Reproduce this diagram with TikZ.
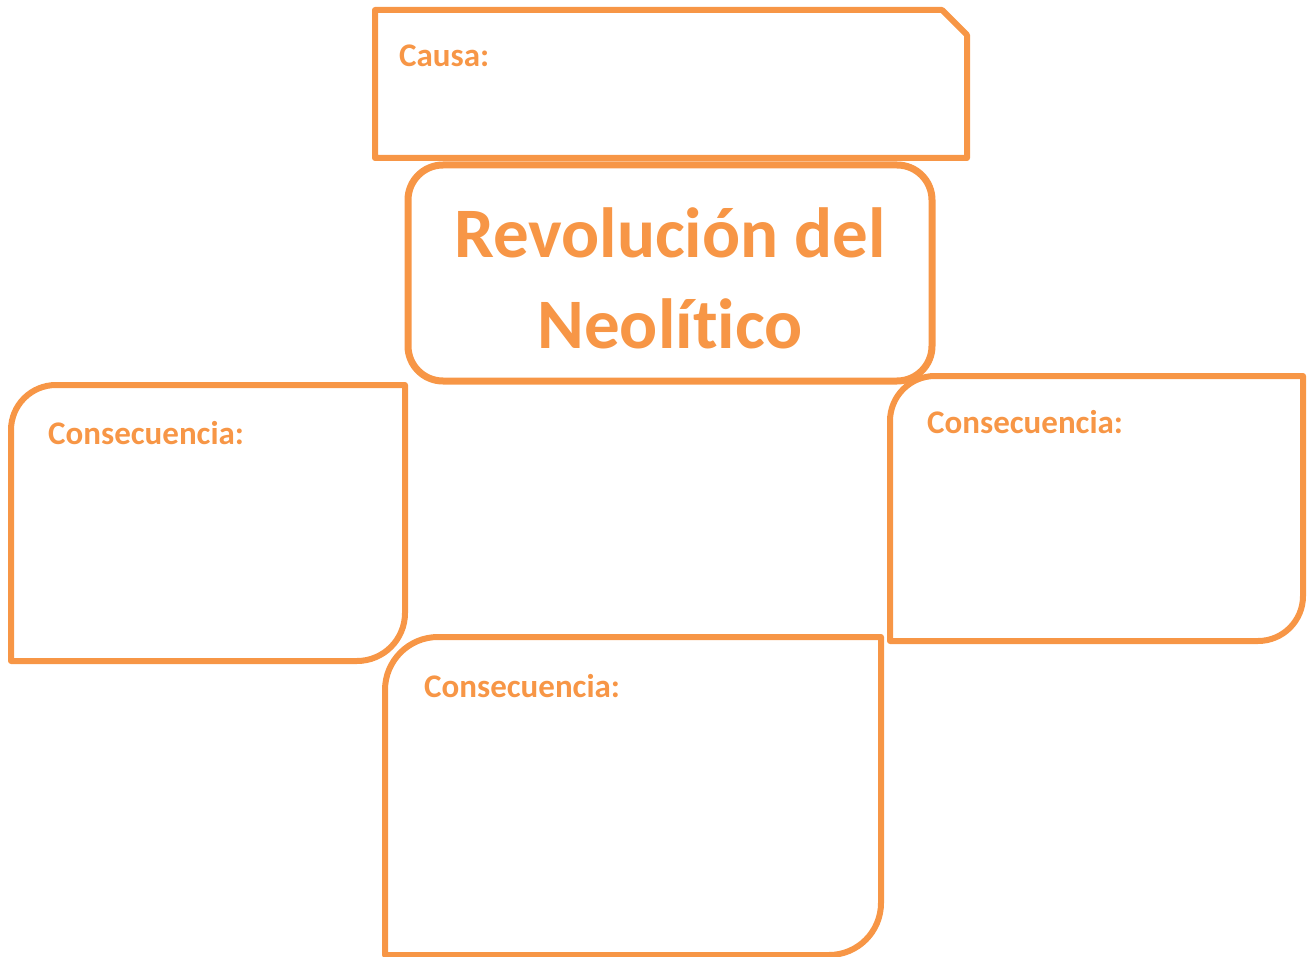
\documentclass[tikz,border=0pt]{standalone}
\usepackage{fontspec}
\setmainfont[Ligatures=NoCommon]{Carlito}
\definecolor{neoorange}{HTML}{F79646}
\tikzset{
  boxline/.style={draw=neoorange, line width=6pt, line join=round},
  label33/.style={text=neoorange, font=\fontsize{33}{40}\selectfont\bfseries, anchor=base west, inner sep=0pt},
  titletext/.style={text=neoorange, font=\fontsize{71}{90}\selectfont\bfseries, anchor=base, inner sep=0pt}
}
\begin{document}
\begin{tikzpicture}[x=1pt,y=-1pt]
\useasboundingbox (0,0) rectangle (1308,957);
% Causa box with snipped top-right corner
\draw[boxline] (375,10) -- (942,10) -- (967,35) -- (967,158) -- (375,158) -- cycle;
\node[label33] (causa) at (399,67) {Causa:};
% Central title box
\node[boxline, line width=7pt, rounded corners=35pt, minimum width=524pt, minimum height=216pt, inner sep=0pt] (titlebox) at (670,273) {};
\node[titletext] (title1) at (670,258) {Revolución del};
\node[titletext] (title2) at (670,348) {Neolít{}ico};
% Left consequence box
\draw[boxline] (11,661) -- (11,430) arc[start angle=180, end angle=270, radius=45] -- (405,385) -- (405,613) arc[start angle=0, end angle=90, radius=48] -- cycle;
\node[label33] (conleft) at (48,444) {Consecuencia:};
% Right consequence box
\draw[boxline] (890,641) -- (890,421) arc[start angle=180, end angle=270, radius=45] -- (1303,376) -- (1303,596) arc[start angle=0, end angle=90, radius=45] -- cycle;
\node[label33] (conright) at (927,433) {Consecuencia:};
% Bottom consequence box
\draw[boxline] (385,955) -- (385,690) arc[start angle=180, end angle=270, radius=53] -- (881,637) -- (881,903) arc[start angle=0, end angle=90, radius=52] -- cycle;
\node[label33] (conbottom) at (424,697) {Consecuencia:};
\end{tikzpicture}
\end{document}
